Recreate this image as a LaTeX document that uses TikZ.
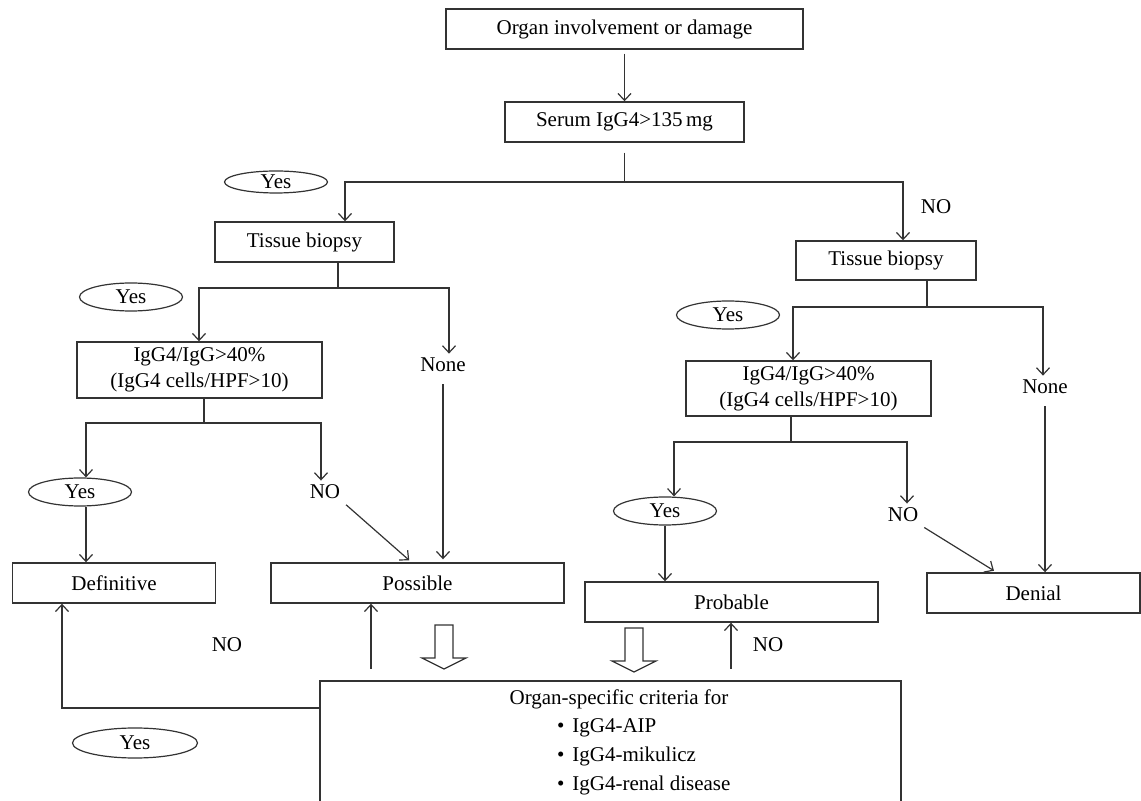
\documentclass[tikz,border=0pt]{standalone}
\usepackage{fontspec}
\setmainfont{Liberation Serif}
\usetikzlibrary{arrows.meta,shapes.geometric}

\begin{document}
\begin{tikzpicture}[x=0.5pt,y=-0.5pt,
    font=\fontsize{10.5}{13}\selectfont,
    box/.style={draw=black!80,line width=0.7pt,rectangle,inner sep=0pt},
    yesbox/.style={draw=black!80,line width=0.6pt,ellipse,inner sep=0pt,minimum width=51.5pt,minimum height=14pt},
    lab/.style={inner sep=2pt},
    ln/.style={draw=black!80,line width=0.6pt},
    arr/.style={ln,-{Straight Barb[length=3.5pt,width=6.5pt]}},
    fatdown/.pic={\draw[ln,line join=miter] (-9,0) -- (9,0) -- (9,33) -- (22,33) -- (0,44)
        -- (-22,33) -- (-9,33) -- cycle;}]
    \useasboundingbox (0,0) rectangle (1141,801);
    %% boxes
    \node[box,minimum width=178.5pt,minimum height=20pt] (organ) at (624.5,29) {Organ involvement or damage};
    \node[box,minimum width=119.5pt,minimum height=20pt] (serum) at (624.5,122) {Serum IgG4>135\,mg};
    \node[box,minimum width=89.5pt,minimum height=20pt] (tbl) at (304.5,242) {Tissue biopsy};
    \node[box,minimum width=90pt,minimum height=19.5pt] (tbr) at (886,260.5) {Tissue biopsy};
    \node[box,minimum width=122.5pt,minimum height=28pt,align=center] (igl) at (199.5,370) {IgG4/IgG>40\%\\(IgG4 cells/HPF>10)};
    \node[box,minimum width=122.5pt,minimum height=27.5pt,align=center] (igr) at (808.5,388.5) {IgG4/IgG>40\%\\(IgG4 cells/HPF>10)};
    \node[box,minimum width=101.5pt,minimum height=20pt] (defin) at (114,583) {Definitive};
    \node[box,minimum width=146.5pt,minimum height=20pt] (possible) at (417.5,583) {Possible};
    \node[box,minimum width=146.5pt,minimum height=20pt] (probable) at (731.5,602) {Probable};
    \node[box,minimum width=106.5pt,minimum height=20pt] (denial) at (1033.5,593) {Denial};
    \node[box,minimum width=290.5pt,minimum height=80pt] (crit) at (610.5,761) {};
    \node (crittitle) at (619,699) {Organ-specific criteria for};
    \node[anchor=west,align=left,font=\fontsize{10.5}{14.5}\selectfont] (critlist) at (550,757)
        {\textbullet\hspace{4pt}IgG4-AIP\\\textbullet\hspace{4pt}IgG4-mikulicz\\\textbullet\hspace{4pt}IgG4-renal disease};
    %% yes / no / none labels
    \node[yesbox,minimum height=11pt] (yes1) at (276,182) {Yes};
    \node[yesbox] (yes2) at (131,297) {Yes};
    \node[yesbox] (yes3) at (728,315) {Yes};
    \node[yesbox] (yes4) at (80,492) {Yes};
    \node[yesbox] (yes5) at (665,511) {Yes};
    \node[yesbox,minimum width=62.5pt,minimum height=15pt] (yes6) at (135,743) {Yes};
    \node[lab] (nonel) at (443,365) {None};
    \node[lab] (noner) at (1045,387) {None};
    \node[lab] (no1) at (936,207) {NO};
    \node[lab] (no2) at (325,492) {NO};
    \node[lab] (no3) at (903,515) {NO};
    \node[lab] (no4) at (227,645) {NO};
    \node[lab] (no5) at (768,645) {NO};
    %% junctions
    \coordinate (sj) at (624.5,182);
    \coordinate (sl) at (345,182);
    \coordinate (sr) at (903,182);
    \coordinate (tlj) at (338,288);
    \coordinate (tla) at (199,288);
    \coordinate (tlb) at (449,288);
    \coordinate (ilj) at (204,423);
    \coordinate (ila) at (86,423);
    \coordinate (ilb) at (321,423);
    \coordinate (trj) at (927,307);
    \coordinate (tra) at (793,307);
    \coordinate (trb) at (1043,307);
    \coordinate (irj) at (791,442);
    \coordinate (ira) at (674,442);
    \coordinate (irb) at (907,442);
    \coordinate (cy) at (62,708);
    \coordinate (pu) at (371,669);
    \coordinate (qu) at (731,669);
    %% connectors
    \draw[arr,shorten <=2pt] (organ) -- (serum);
    \draw[ln,shorten <=5pt] (serum.south) -- (sj);
    \draw[arr] (sj) -- (sl) -- (sl |- tbl.north);
    \draw[arr] (sj) -- (sr) -- (sr |- tbr.north);
    % left branch
    \draw[ln] (tlj |- tbl.south) -- (tlj);
    \draw[arr] (tlj) -- (tla) -- (tla |- igl.north);
    \draw[arr] (tlj) -- (tlb) -- (tlb |- nonel.north);
    \draw[arr,shorten <=4pt,shorten >=1.5pt] (nonel.south) -- (nonel.south |- possible.north);
    \draw[ln] (ilj |- igl.south) -- (ilj);
    \draw[arr] (ilj) -- (ila) -- (ila |- yes4.north);
    \draw[arr] (ilj) -- (ilb) -- (ilb |- no2.north);
    \draw[arr] (ila |- yes4.south) -- (ila |- defin.north);
    \draw[arr,shorten <=1pt,shorten >=1.5pt] (no2.south east) -- ([xshift=-3pt]possible.north);
    % right branch
    \draw[ln] (trj |- tbr.south) -- (trj);
    \draw[arr] (trj) -- (tra) -- (tra |- igr.north);
    \draw[arr] (trj) -- (trb) -- (trb |- noner.north);
    \draw[arr,shorten <=4pt] (noner.south) -- (noner.south |- denial.north);
    \draw[ln] (irj |- igr.south) -- (irj);
    \draw[arr] (irj) -- (ira) -- (ira |- yes5.north);
    \draw[arr] (irj) -- (irb) -- (irb |- no3.north);
    \draw[arr] (yes5.south) -- (yes5.south |- probable.north);
    \draw[arr,shorten <=1pt,shorten >=1.5pt] (no3.south east) -- ([xshift=-18.5pt]denial.north);
    % criteria feedback
    \draw[arr] (crit.west |- cy) -- (cy) -- (cy |- defin.south);
    \draw[arr] (pu) -- (pu |- possible.south);
    \draw[arr] (qu) -- (qu |- probable.south);
    \pic (fat1) at (444,625) {fatdown};
    \pic (fat2) at (634,628) {fatdown};
\end{tikzpicture}
\end{document}
